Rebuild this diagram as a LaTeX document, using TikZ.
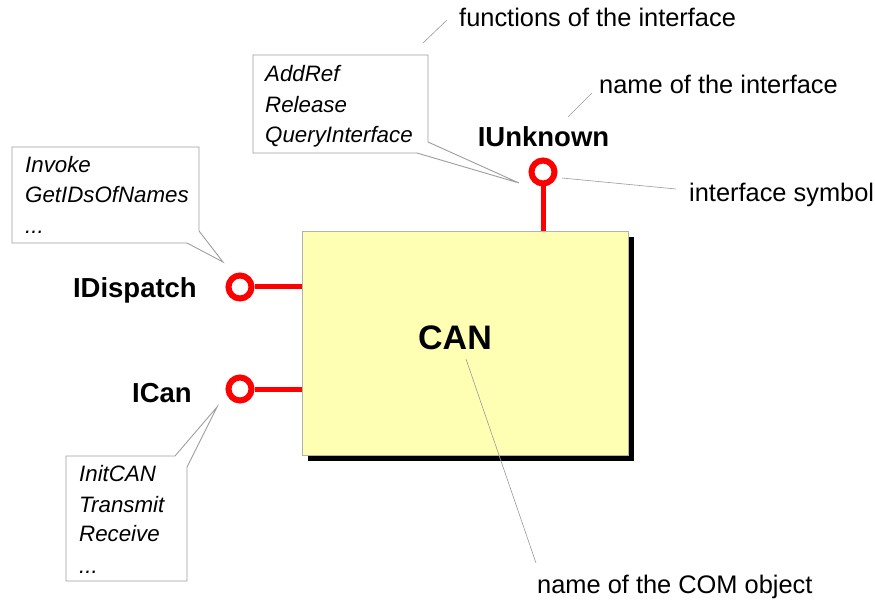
\documentclass[tikz,border=0pt]{standalone}
\usepackage{fontspec}
\setmainfont{Liberation Sans}
\definecolor{objfill}{HTML}{FFFFB4}
\begin{document}
\begin{tikzpicture}[x=1pt,y=-1pt,
 callout/.style={draw=black!38, fill=white, line width=0.9pt, line join=miter},
 note/.style={draw=black!40, line width=0.6pt},
 lbl/.style={inner sep=0pt, anchor=base west, font=\fontsize{25.4}{30}\selectfont},
 fn/.style={inner sep=0pt, anchor=base west, font=\itshape\fontsize{22.3}{26}\selectfont},
 iname/.style={inner sep=0pt, font=\bfseries\fontsize{27.5}{32}\selectfont},
 port/.style={draw=red, line width=6pt, fill=white, circle, minimum size=23pt, inner sep=0pt},
 stem/.style={draw=red, line width=5pt}]
\useasboundingbox (0,0) rectangle (875,601);

% COM object with shadow
\fill[black] (308,237) rectangle (634,461);
\node[draw=black!30, line width=0.8pt, fill=objfill, minimum width=326pt, minimum height=224pt, anchor=north west, inner sep=0pt] (obj) at (302,231) {};
\node[inner sep=0pt, anchor=base, font=\bfseries\fontsize{34}{40}\selectfont] (can) at (455,349) {CAN};

% ports
\node[port] (pu) at (543,172) {};
\node[port] (pd) at (240,287) {};
\node[port] (pc) at (240,389) {};
\draw[stem] (pu.south) -- (pu.south |- obj.north);
\draw[stem] (pd.east) -- (pd.east -| obj.west);
\draw[stem] (pc.east) -- (pc.east -| obj.west);

% interface names
\node[iname, anchor=base] (nu) at (543.5,147) {IUnknown};
\node[iname, anchor=base east] (nd) at (197,298) {IDispatch};
\node[iname, anchor=base east] (nc) at (192,402) {ICan};

% callouts
\draw[callout] (253,55) -- (428,55) -- (428,142) -- (519,183) -- (417,153) -- (253,153) -- cycle;
\draw[callout] (12,147) -- (199,147) -- (199,231) -- (223,262) -- (187,243) -- (12,243) -- cycle;
\draw[callout] (66,456) -- (175,456) -- (217,407) -- (187,467) -- (187,581) -- (66,581) -- cycle;

\node[fn] (f1) at (265,82) {AddRef};
\node[fn] (f2) at (265,113) {Release};
\node[fn] (f3) at (265,143) {QueryInterface};

\node[fn] (g1) at (25,173) {Invoke};
\node[fn] (g2) at (25,203) {GetIDsOfNames};
\node[fn] (g3) at (25,234) {...};

\node[fn] (h1) at (79,481) {InitCAN};
\node[fn] (h2) at (79,512) {Transmit};
\node[fn] (h3) at (79,541) {Receive};
\node[fn] (h4) at (79,573) {...};

% annotations
\node[lbl] (a1) at (459,27) {functions of the interface};
\node[lbl] (a2) at (599,94) {name of the interface};
\node[lbl] (a3) at (689,202) {interface symbol};
\node[lbl] (a4) at (537,593) {name of the COM object};

\coordinate (s1) at (423,43); \coordinate (e1) at (447,20);
\coordinate (s2) at (568,117); \coordinate (e2) at (592,93);
\coordinate (s3) at (562,178); \coordinate (e3) at (676,189);
\coordinate (s4) at (466,359); \coordinate (e4) at (536,563);
\draw[note] (s1) -- (e1);
\draw[note] (s2) -- (e2);
\draw[note] (s3) -- (e3);
\draw[note] (s4) -- (e4);
\end{tikzpicture}
\end{document}
